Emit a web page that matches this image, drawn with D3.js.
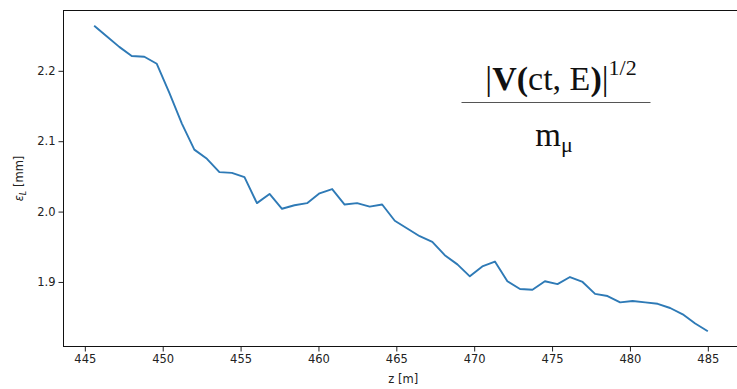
<!DOCTYPE html>
<html>
<head>
<meta charset="utf-8">
<script src="https://cdn.jsdelivr.net/npm/d3@7/dist/d3.min.js"></script>
<style>
  html, body { margin: 0; padding: 0; background: #fff; }
  svg { display: block; }
</style>
</head>
<body>
<svg id="chart" width="737" height="389"></svg>
<script>
// Longitudinal emittance along the beamline
const zValues = [
  445.60, 446.40, 447.21, 448.01, 448.82, 449.62, 450.42, 451.23, 452.03, 452.84,
  453.64, 454.44, 455.25, 456.05, 456.86, 457.66, 458.46, 459.27, 460.07, 460.88,
  461.68, 462.48, 463.29, 464.09, 464.90, 465.70, 466.50, 467.31, 468.11, 468.92,
  469.72, 470.52, 471.33, 472.13, 472.94, 473.74, 474.54, 475.35, 476.15, 476.96,
  477.76, 478.56, 479.37, 480.17, 480.98, 481.78, 482.58, 483.39, 484.19, 485.00
];
const emittance = [
  2.264, 2.249, 2.234, 2.221, 2.220, 2.210, 2.169, 2.125, 2.088, 2.075,
  2.056, 2.055, 2.049, 2.012, 2.025, 2.004, 2.009, 2.012, 2.026, 2.032,
  2.010, 2.012, 2.007, 2.010, 1.987, 1.976, 1.965, 1.957, 1.938, 1.925,
  1.908, 1.922, 1.929, 1.901, 1.890, 1.889, 1.901, 1.897, 1.907, 1.900,
  1.883, 1.880, 1.871, 1.873, 1.871, 1.869, 1.863, 1.854, 1.841, 1.830
];
const xTicks = [445, 450, 455, 460, 465, 470, 475, 480, 485];
const yTicks = [1.9, 2.0, 2.1, 2.2];

const svg = d3.select("#chart");
const plot = { left: 63.5, right: 738.5, top: 10.5, bottom: 346.5 };

// 5% padding around the data extent on both axes
function padded(ext) {
  const p = (ext[1] - ext[0]) * 0.05;
  return [ext[0] - p, ext[1] + p];
}
const x = d3.scaleLinear().domain(padded(d3.extent(zValues))).range([plot.left, plot.right]);
const y = d3.scaleLinear().domain(padded(d3.extent(emittance))).range([plot.bottom, plot.top]);

const tickFont = "DejaVu Sans, sans-serif";

// x axis
const xAxis = svg.append("g")
  .attr("transform", `translate(0,${plot.bottom})`)
  .call(d3.axisBottom(x).tickValues(xTicks).tickFormat(d3.format("d")).tickSize(5).tickPadding(3).tickSizeOuter(0));
xAxis.select(".domain").remove();
xAxis.selectAll("line").attr("stroke", "#222").attr("stroke-width", 1);
xAxis.selectAll("text").attr("font-family", tickFont).attr("font-size", 11.5).attr("fill", "#222");

// y axis
const yAxis = svg.append("g")
  .attr("transform", `translate(${plot.left},0)`)
  .call(d3.axisLeft(y).tickValues(yTicks).tickFormat(d3.format(".1f")).tickSize(5).tickPadding(3).tickSizeOuter(0));
yAxis.select(".domain").remove();
yAxis.selectAll("line").attr("stroke", "#222").attr("stroke-width", 1);
yAxis.selectAll("text").attr("font-family", tickFont).attr("font-size", 11.5).attr("fill", "#222");

// frame
svg.append("rect")
  .attr("x", plot.left).attr("y", plot.top)
  .attr("width", plot.right - plot.left).attr("height", plot.bottom - plot.top)
  .attr("fill", "none").attr("stroke", "#111").attr("stroke-width", 1);

// emittance curve
const line = d3.line().x((d, i) => x(zValues[i])).y(d => y(d));
svg.append("path")
  .datum(emittance)
  .attr("d", line)
  .attr("fill", "none")
  .attr("stroke", "#2e7ab6")
  .attr("stroke-width", 1.9)
  .attr("stroke-linejoin", "round")
  .attr("stroke-linecap", "butt");

// axis labels
svg.append("text")
  .attr("x", (plot.left + 737) / 2 + 3).attr("y", 383)
  .attr("text-anchor", "middle")
  .attr("font-family", tickFont).attr("font-size", 11.5).attr("fill", "#222")
  .text("z [m]");

const yl = svg.append("text")
  .attr("transform", `translate(23,${(plot.top + plot.bottom) / 2}) rotate(-90)`)
  .attr("text-anchor", "middle")
  .attr("font-family", tickFont).attr("font-size", 11.5).attr("fill", "#222");
yl.append("tspan").attr("font-style", "italic").text("ε");
yl.append("tspan").attr("font-style", "italic").attr("font-size", 8).attr("dy", 3).text("L");
yl.append("tspan").attr("dy", -3).text(" [mm]");

// formula annotation
const serif = "Liberation Serif, Times New Roman, serif";
const num = svg.append("text")
  .attr("x", 561).attr("y", 90)
  .attr("text-anchor", "middle")
  .attr("font-family", serif).attr("font-size", 34).attr("fill", "#111");
num.append("tspan").text("|");
num.append("tspan").attr("font-weight", "bold").text("V(");
num.append("tspan").text("ct, E");
num.append("tspan").attr("font-weight", "bold").text(")");
num.append("tspan").text("|");
num.append("tspan").attr("font-size", 22).attr("dy", -15).text("1/2");

svg.append("line")
  .attr("x1", 461.5).attr("x2", 650.5).attr("y1", 102.5).attr("y2", 102.5)
  .attr("stroke", "#555").attr("stroke-width", 1);

const den = svg.append("text")
  .attr("x", 554).attr("y", 146)
  .attr("text-anchor", "middle")
  .attr("font-family", serif).attr("font-size", 33).attr("fill", "#111");
den.append("tspan").text("m");
den.append("tspan").attr("font-size", 22).attr("dy", 6).text("μ");
</script>
</body>
</html>
